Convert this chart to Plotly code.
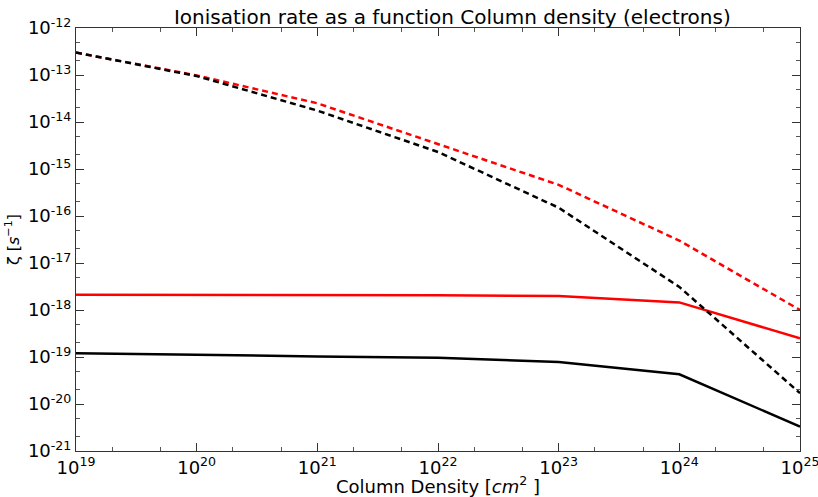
import plotly.graph_objects as go

column_density = [1e19, 1e20, 1e21, 1e22, 1e23, 1e24, 1e25]
red_solid = [2.1e-18, 2.1e-18, 2.08e-18, 2.05e-18, 1.98e-18, 1.45e-18, 2.5e-19]
black_solid = [1.2e-19, 1.13e-19, 1.03e-19, 9.6e-20, 7.8e-20, 4.3e-20, 3.3e-21]
red_dashed = [3.0e-13, 9.8e-14, 2.5e-14, 3.4e-15, 4.6e-16, 3.0e-17, 1.0e-18]
black_dashed = [3.0e-13, 9.5e-14, 1.75e-14, 2.3e-15, 1.5e-16, 3.1e-18, 1.7e-20]

x_ticks = [1e19, 1e20, 1e21, 1e22, 1e23, 1e24, 1e25]
x_ticktext = ["10<sup>%d</sup>" % e for e in range(19, 26)]
y_ticks = [10.0 ** e for e in range(-21, -11)]
y_ticktext = ["10<sup>%d</sup>" % e for e in range(-21, -11)]

fig = go.Figure()
fig.add_trace(go.Scatter(x=column_density, y=red_solid, mode="lines",
                         line=dict(color="red", width=2.5)))
fig.add_trace(go.Scatter(x=column_density, y=black_solid, mode="lines",
                         line=dict(color="black", width=2.5)))
fig.add_trace(go.Scatter(x=column_density, y=red_dashed, mode="lines",
                         line=dict(color="red", width=2.5, dash="6px,4px")))
fig.add_trace(go.Scatter(x=column_density, y=black_dashed, mode="lines",
                         line=dict(color="black", width=2.5, dash="6px,4px")))

axis_common = dict(type="log", showgrid=False, zeroline=False, showline=True,
                   linecolor="#333", linewidth=1, mirror="allticks",
                   ticks="inside", ticklen=8, tickcolor="#333",
                   minor=dict(ticks="inside", ticklen=4, tickcolor="#555"),
                   automargin=False, ticklabeloverflow="allow",
                   tickfont=dict(family="DejaVu Sans", size=18, color="black"))

fig.update_xaxes(range=[19, 25], tickvals=x_ticks, ticktext=x_ticktext,
                 title=dict(text="Column Density [<i>cm</i><sup>2</sup> ]",
                            font=dict(family="DejaVu Sans", size=18, color="black"),
                            standoff=2),
                 **axis_common)
fig.update_yaxes(range=[-21, -12], tickvals=y_ticks, ticktext=y_ticktext,
                 title=dict(text="ζ [<i>s</i><sup>−1</sup>]",
                            font=dict(family="DejaVu Sans", size=16, color="black"),
                            standoff=4),
                 **axis_common)

fig.update_layout(
    width=818, height=497,
    margin=dict(l=76, r=18, t=28, b=46),
    paper_bgcolor="white", plot_bgcolor="white",
    showlegend=False,
    title=dict(text="Ionisation rate as a function Column density (electrons)",
               x=0.553, xanchor="center", y=0.965, yanchor="middle",
               font=dict(family="DejaVu Sans", size=20, color="black")),
)

fig.write_html("out.html")
